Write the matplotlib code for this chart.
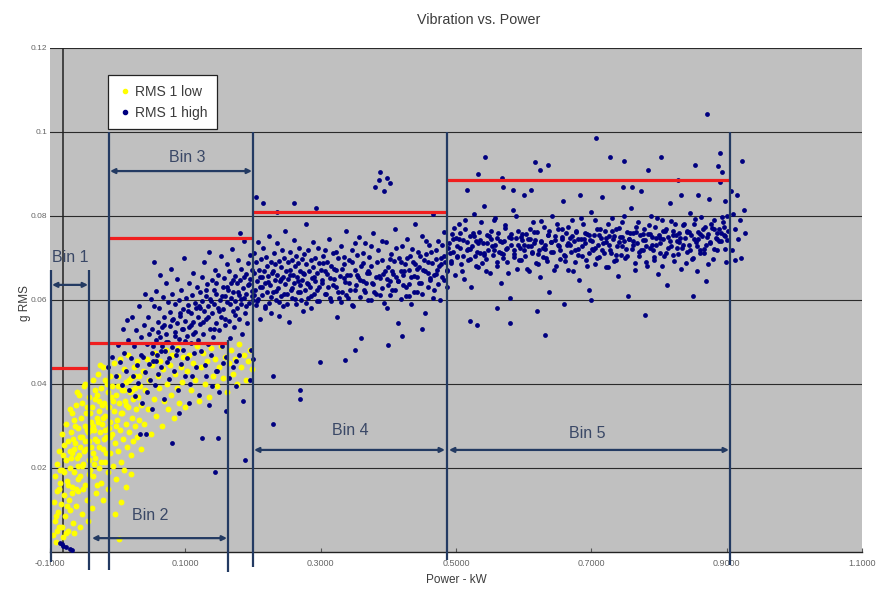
import matplotlib
matplotlib.use("Agg")
import matplotlib.pyplot as plt
from matplotlib.lines import Line2D

plt.rcParams['font.family'] = ['Liberation Sans', 'DejaVu Sans']

# ---------------------------------------------------------------- text
title = "Vibration vs. Power"
x_label = "Power - kW"
y_label = "g RMS"
x_ticks = [-0.1, 0.1, 0.3, 0.5, 0.7, 0.9, 1.1]
x_tick_labels = ["-0.1000", "0.1000", "0.3000", "0.5000", "0.7000", "0.9000", "1.1000"]
y_ticks = [0.02, 0.04, 0.06, 0.08, 0.10, 0.12]
y_tick_labels = ["0.02", "0.04", "0.06", "0.08", "0.1", "0.12"]
series_names = ["RMS 1 low", "RMS 1 high"]

# ---------------------------------------------------------------- bins
bin_names = ["Bin 1", "Bin 2", "Bin 3", "Bin 4", "Bin 5"]
bin_start = [-0.0985, -0.0424, -0.0128, 0.2000, 0.4867]
bin_end = [-0.0424, 0.1631, 0.2000, 0.4867, 0.9049]
bin_level = [0.0438, 0.0498, 0.0748, 0.0810, 0.0886]

# ---------------------------------------------------------------- RMS 1 low (power kW, g RMS)
rms_low = [
    (-0.095, 0.0040), (-0.094, 0.0120), (-0.093, 0.0075), (-0.092, 0.0180), (-0.091, 0.0025),
    (-0.090, 0.0145), (-0.089, 0.0210), (-0.088, 0.0095), (-0.087, 0.0060), (-0.086, 0.0240),
    (-0.085, 0.0165), (-0.084, 0.0115), (-0.083, 0.0280), (-0.082, 0.0195), (-0.081, 0.0035),
    (-0.080, 0.0135), (-0.079, 0.0255), (-0.078, 0.0085), (-0.077, 0.0220), (-0.076, 0.0305),
    (-0.075, 0.0170), (-0.074, 0.0050), (-0.073, 0.0265), (-0.072, 0.0125), (-0.071, 0.0340),
    (-0.070, 0.0200), (-0.070, 0.0100),
    (-0.069, 0.0285), (-0.068, 0.0155), (-0.067, 0.0235), (-0.066, 0.0070), (-0.065, 0.0315),
    (-0.064, 0.0190), (-0.063, 0.0260), (-0.062, 0.0110), (-0.061, 0.0350), (-0.060, 0.0225),
    (-0.059, 0.0295), (-0.058, 0.0145), (-0.057, 0.0375), (-0.056, 0.0250), (-0.055, 0.0180),
    (-0.054, 0.0320), (-0.053, 0.0090), (-0.052, 0.0275), (-0.051, 0.0210), (-0.050, 0.0395),
    (-0.049, 0.0300), (-0.048, 0.0160), (-0.047, 0.0245), (-0.046, 0.0345), (-0.045, 0.0125),
    (-0.044, 0.0285), (-0.043, 0.0220), (-0.042, 0.0370), (-0.041, 0.0195), (-0.040, 0.0310),
    (-0.068, 0.0330), (-0.064, 0.0045), (-0.060, 0.0380), (-0.056, 0.0060), (-0.052, 0.0355),
    (-0.048, 0.0400), (-0.044, 0.0075), (-0.066, 0.0270), (-0.058, 0.0205), (-0.050, 0.0240),
    (-0.042, 0.0265),
    (-0.039, 0.0250), (-0.038, 0.0345), (-0.037, 0.0180), (-0.036, 0.0410), (-0.035, 0.0290),
    (-0.034, 0.0225), (-0.033, 0.0365), (-0.032, 0.0140), (-0.031, 0.0320), (-0.030, 0.0265),
    (-0.029, 0.0425), (-0.028, 0.0200), (-0.027, 0.0335), (-0.026, 0.0285), (-0.025, 0.0390),
    (-0.024, 0.0165), (-0.023, 0.0305), (-0.022, 0.0245), (-0.021, 0.0440), (-0.020, 0.0355),
    (-0.019, 0.0215), (-0.018, 0.0325), (-0.017, 0.0275), (-0.016, 0.0400), (-0.015, 0.0190),
    (-0.014, 0.0345), (-0.013, 0.0295), (-0.012, 0.0420), (-0.011, 0.0235), (-0.010, 0.0370),
    (-0.038, 0.0105), (-0.034, 0.0385), (-0.030, 0.0160), (-0.026, 0.0445), (-0.022, 0.0125),
    (-0.018, 0.0410), (-0.014, 0.0150), (-0.036, 0.0300), (-0.028, 0.0360), (-0.020, 0.0270),
    (-0.012, 0.0310),
    (-0.009, 0.0280), (-0.008, 0.0395), (-0.007, 0.0205), (-0.006, 0.0335), (-0.005, 0.0450),
    (-0.004, 0.0260), (-0.003, 0.0375), (-0.002, 0.0175), (-0.001, 0.0315), (0.000, 0.0420),
    (0.001, 0.0240), (0.002, 0.0355), (0.003, 0.0290), (0.004, 0.0460), (0.005, 0.0215),
    (0.006, 0.0385), (0.007, 0.0330), (0.008, 0.0270), (0.009, 0.0435), (0.010, 0.0195),
    (0.011, 0.0360), (0.012, 0.0305), (0.013, 0.0405), (0.014, 0.0250), (0.015, 0.0345),
    (0.016, 0.0470), (0.017, 0.0285), (0.018, 0.0380), (0.019, 0.0230), (0.020, 0.0415),
    (0.021, 0.0320), (0.022, 0.0365), (0.023, 0.0265), (0.024, 0.0440), (0.025, 0.0300),
    (0.026, 0.0390), (0.027, 0.0340), (0.028, 0.0455), (0.029, 0.0275), (0.030, 0.0370),
    (0.031, 0.0420), (0.032, 0.0315), (0.033, 0.0395), (0.034, 0.0245), (0.035, 0.0350),
    (0.005, 0.0120), (-0.004, 0.0090), (0.012, 0.0155), (0.020, 0.0185), (0.002, 0.0030),
    (0.037, 0.0430), (0.039, 0.0305), (0.041, 0.0385), (0.043, 0.0460), (0.045, 0.0340),
    (0.047, 0.0410), (0.049, 0.0280), (0.051, 0.0445), (0.053, 0.0365), (0.055, 0.0475),
    (0.057, 0.0325), (0.059, 0.0420), (0.061, 0.0390), (0.063, 0.0455), (0.065, 0.0300),
    (0.067, 0.0435), (0.069, 0.0360), (0.071, 0.0480), (0.073, 0.0400), (0.075, 0.0340),
    (0.077, 0.0445), (0.079, 0.0375), (0.081, 0.0470), (0.083, 0.0320), (0.085, 0.0425),
    (0.087, 0.0390), (0.089, 0.0485), (0.091, 0.0355), (0.093, 0.0440), (0.095, 0.0405),
    (0.097, 0.0465), (0.099, 0.0345),
    (0.102, 0.0430), (0.105, 0.0470), (0.108, 0.0385), (0.111, 0.0450), (0.114, 0.0410),
    (0.117, 0.0490), (0.120, 0.0360), (0.123, 0.0440), (0.126, 0.0475), (0.129, 0.0400),
    (0.132, 0.0455), (0.135, 0.0370), (0.138, 0.0485), (0.141, 0.0420), (0.144, 0.0460),
    (0.147, 0.0395), (0.150, 0.0440), (0.153, 0.0490), (0.156, 0.0415), (0.159, 0.0465),
    (0.162, 0.0380), (0.165, 0.0450), (0.168, 0.0480), (0.171, 0.0425), (0.174, 0.0460),
    (0.177, 0.0400), (0.180, 0.0495), (0.183, 0.0440), (0.186, 0.0470), (0.189, 0.0410),
    (0.192, 0.0455), (0.195, 0.0480), (0.198, 0.0435),
    (-0.091, 0.0085), (-0.087, 0.0150), (-0.083, 0.0060), (-0.079, 0.0190), (-0.075, 0.0110),
    (-0.071, 0.0240), (-0.067, 0.0140), (-0.063, 0.0300), (-0.059, 0.0175), (-0.055, 0.0275),
    (-0.051, 0.0150), (-0.047, 0.0330), (-0.043, 0.0185), (-0.039, 0.0290), (-0.035, 0.0210),
    (-0.031, 0.0375), (-0.027, 0.0250), (-0.023, 0.0350), (-0.019, 0.0290), (-0.015, 0.0380),
    (-0.011, 0.0275), (-0.007, 0.0360), (-0.003, 0.0300), (0.001, 0.0395), (0.005, 0.0330),
    (0.009, 0.0385), (0.013, 0.0350), (0.017, 0.0410), (0.021, 0.0385), (0.025, 0.0420),
    (-0.089, 0.0050), (-0.085, 0.0195), (-0.081, 0.0230), (-0.077, 0.0045), (-0.073, 0.0160),
    (-0.069, 0.0225), (-0.065, 0.0245), (-0.061, 0.0150), (-0.057, 0.0230), (-0.053, 0.0205),
    (-0.049, 0.0265), (-0.045, 0.0290), (-0.041, 0.0330), (-0.037, 0.0235), (-0.033, 0.0270),
    (-0.029, 0.0310), (-0.025, 0.0215), (-0.021, 0.0320), (-0.017, 0.0235), (-0.013, 0.0345),
]

# ---------------------------------------------------------------- RMS 1 high (power kW, g RMS)
rms_high = [
    # idle cluster
    (-0.085, 0.0022), (-0.081, 0.0014), (-0.076, 0.0012), (-0.071, 0.0008), (-0.067, 0.0004),
    (-0.083, 0.0018),
    # start-up
    (-0.015, 0.0440), (-0.008, 0.0465), (-0.003, 0.0418), (0.001, 0.0492), (0.004, 0.0452),
    (0.006, 0.0398), (0.008, 0.0530), (0.010, 0.0475), (0.012, 0.0432), (0.014, 0.0552),
    (0.015, 0.0505), (0.017, 0.0385), (0.019, 0.0462), (0.021, 0.0560), (0.022, 0.0420),
    (0.024, 0.0490), (0.025, 0.0371), (0.027, 0.0528), (0.028, 0.0445), (0.030, 0.0402),
    (0.031, 0.0585), (0.033, 0.0281), (0.034, 0.0470), (0.035, 0.0512), (0.036, 0.0355),
    (0.037, 0.0464), (0.039, 0.0540), (0.040, 0.0428), (0.041, 0.0615), (0.042, 0.0281),
    (0.043, 0.0495), (0.044, 0.0382), (0.045, 0.0560), (0.046, 0.0448), (0.047, 0.0520),
    (0.048, 0.0410), (0.049, 0.0602), (0.050, 0.0475), (0.050, 0.0340),
    (0.051, 0.0530), (0.052, 0.0455), (0.053, 0.0690), (0.054, 0.0585), (0.055, 0.0398),
    (0.056, 0.0505), (0.057, 0.0622), (0.058, 0.0470), (0.059, 0.0548), (0.060, 0.0425),
    (0.061, 0.0580), (0.062, 0.0512), (0.063, 0.0660), (0.064, 0.0440), (0.065, 0.0535),
    (0.066, 0.0490), (0.067, 0.0608), (0.068, 0.0365), (0.069, 0.0560), (0.070, 0.0478),
    (0.071, 0.0520), (0.072, 0.0640), (0.073, 0.0452), (0.074, 0.0595), (0.075, 0.0500),
    (0.076, 0.0412), (0.077, 0.0572), (0.078, 0.0538), (0.079, 0.0675), (0.080, 0.0260),
    (0.080, 0.0488), (0.081, 0.0615), (0.082, 0.0555), (0.083, 0.0430), (0.084, 0.0525),
    (0.085, 0.0590), (0.086, 0.0468), (0.087, 0.0650), (0.088, 0.0545), (0.089, 0.0385),
    (0.090, 0.0508), (0.091, 0.0600), (0.092, 0.0562), (0.093, 0.0448), (0.094, 0.0625),
    (0.095, 0.0530), (0.096, 0.0482), (0.097, 0.0578), (0.098, 0.0700), (0.099, 0.0420),
    (0.100, 0.0550), (0.101, 0.0605), (0.102, 0.0515), (0.103, 0.0462), (0.104, 0.0588),
    (0.105, 0.0640), (0.106, 0.0535), (0.107, 0.0400), (0.108, 0.0570), (0.109, 0.0498),
    (0.110, 0.0612), (0.111, 0.0548), (0.112, 0.0665), (0.113, 0.0475), (0.114, 0.0592),
    (0.115, 0.0525), (0.116, 0.0440), (0.117, 0.0632), (0.118, 0.0560), (0.119, 0.0505),
    (0.120, 0.0585),
    (0.052, 0.0490), (0.056, 0.0455), (0.060, 0.0525), (0.064, 0.0478), (0.068, 0.0540),
    (0.072, 0.0500), (0.076, 0.0462), (0.080, 0.0552), (0.084, 0.0515), (0.088, 0.0480),
    (0.092, 0.0568), (0.096, 0.0530), (0.100, 0.0502), (0.104, 0.0575), (0.108, 0.0540),
    (0.112, 0.0518), (0.116, 0.0582),
    (0.130, 0.0420), (0.150, 0.0380), (0.170, 0.0440), (0.185, 0.0360), (0.160, 0.0335),
    (0.140, 0.0395), (0.195, 0.0410), (0.175, 0.0395), (0.120, 0.0375), (0.105, 0.0355),
    (0.090, 0.0330), (0.155, 0.0450), (0.165, 0.0415), (0.200, 0.0460), (0.135, 0.0350),
    (0.180, 0.0470), (0.145, 0.0430), (0.110, 0.0420),
    (0.121, 0.0620), (0.122, 0.0542), (0.123, 0.0478), (0.124, 0.0655), (0.125, 0.0271),
    (0.125, 0.0598), (0.126, 0.0520), (0.127, 0.0690), (0.128, 0.0575), (0.129, 0.0445),
    (0.130, 0.0610), (0.131, 0.0555), (0.132, 0.0638), (0.133, 0.0495), (0.134, 0.0585),
    (0.135, 0.0715), (0.136, 0.0532), (0.137, 0.0602), (0.138, 0.0468), (0.139, 0.0648),
    (0.140, 0.0568), (0.141, 0.0512), (0.142, 0.0625), (0.143, 0.0590), (0.144, 0.0190),
    (0.144, 0.0672), (0.145, 0.0545), (0.146, 0.0615), (0.147, 0.0430), (0.148, 0.0271),
    (0.148, 0.0582), (0.149, 0.0660), (0.150, 0.0528), (0.151, 0.0600), (0.152, 0.0705),
    (0.153, 0.0560), (0.154, 0.0490), (0.155, 0.0632), (0.156, 0.0578), (0.157, 0.0652),
    (0.158, 0.0540), (0.159, 0.0610), (0.160, 0.0465), (0.161, 0.0685), (0.162, 0.0595),
    (0.163, 0.0625), (0.164, 0.0550), (0.165, 0.0668), (0.166, 0.0510), (0.167, 0.0605),
    (0.168, 0.0640), (0.169, 0.0722), (0.170, 0.0575), (0.171, 0.0620), (0.172, 0.0535),
    (0.173, 0.0658), (0.174, 0.0598), (0.175, 0.0455), (0.176, 0.0640), (0.177, 0.0582),
    (0.178, 0.0695), (0.179, 0.0612), (0.180, 0.0555), (0.181, 0.0648), (0.182, 0.0590),
    (0.183, 0.0675), (0.184, 0.0520), (0.185, 0.0628), (0.186, 0.0605), (0.187, 0.0740),
    (0.188, 0.0219), (0.188, 0.0570), (0.189, 0.0662), (0.190, 0.0615), (0.191, 0.0545),
    (0.192, 0.0688), (0.193, 0.0635), (0.194, 0.0592), (0.195, 0.0708), (0.196, 0.0650),
    (0.197, 0.0480), (0.198, 0.0622), (0.199, 0.0672), (0.200, 0.0600), (0.181, 0.0760),
    (0.122, 0.0580), (0.126, 0.0548), (0.130, 0.0625), (0.134, 0.0560), (0.138, 0.0598),
    (0.142, 0.0530), (0.146, 0.0640), (0.150, 0.0575), (0.154, 0.0610), (0.158, 0.0555),
    (0.162, 0.0632), (0.166, 0.0590), (0.170, 0.0648), (0.174, 0.0565), (0.178, 0.0620),
    (0.182, 0.0602), (0.186, 0.0655), (0.190, 0.0585), (0.194, 0.0638), (0.198, 0.0610),
    # transition
    (0.201, 0.0665), (0.202, 0.0712), (0.203, 0.0625), (0.204, 0.0588), (0.205, 0.0690),
    (0.206, 0.0645), (0.207, 0.0738), (0.208, 0.0602), (0.209, 0.0672), (0.210, 0.0630),
    (0.211, 0.0555), (0.212, 0.0698), (0.213, 0.0655), (0.214, 0.0612), (0.215, 0.0725),
    (0.216, 0.0668), (0.217, 0.0580), (0.218, 0.0640), (0.219, 0.0702), (0.220, 0.0618),
    (0.221, 0.0680), (0.222, 0.0658), (0.223, 0.0592), (0.224, 0.0752), (0.225, 0.0635),
    (0.226, 0.0690), (0.227, 0.0570), (0.228, 0.0665), (0.229, 0.0420), (0.230, 0.0620),
    (0.231, 0.0712), (0.232, 0.0648), (0.233, 0.0685), (0.234, 0.0600), (0.235, 0.0660),
    (0.236, 0.0735), (0.237, 0.0628), (0.238, 0.0562), (0.239, 0.0692), (0.240, 0.0645),
    (0.241, 0.0678), (0.242, 0.0610), (0.243, 0.0720), (0.244, 0.0655), (0.245, 0.0585),
    (0.246, 0.0700), (0.247, 0.0638), (0.248, 0.0765), (0.249, 0.0668), (0.250, 0.0615),
    (0.251, 0.0690), (0.252, 0.0650), (0.253, 0.0548), (0.254, 0.0715), (0.255, 0.0672),
    (0.256, 0.0625), (0.257, 0.0695), (0.258, 0.0605), (0.259, 0.0660), (0.260, 0.0742),
    (0.261, 0.0640), (0.262, 0.0682), (0.263, 0.0590), (0.264, 0.0705), (0.265, 0.0655),
    (0.266, 0.0618), (0.267, 0.0688), (0.268, 0.0725), (0.269, 0.0635), (0.270, 0.0365),
    (0.270, 0.0670), (0.271, 0.0600), (0.272, 0.0698), (0.273, 0.0648), (0.274, 0.0575),
    (0.275, 0.0710), (0.276, 0.0662), (0.277, 0.0625), (0.278, 0.0780), (0.279, 0.0685),
    (0.280, 0.0640), (0.281, 0.0605), (0.282, 0.0718), (0.283, 0.0668), (0.284, 0.0632),
    (0.285, 0.0695), (0.286, 0.0580), (0.287, 0.0652), (0.288, 0.0738), (0.289, 0.0678),
    (0.290, 0.0615), (0.291, 0.0700), (0.292, 0.0645), (0.293, 0.0820), (0.294, 0.0665),
    (0.295, 0.0598), (0.296, 0.0725), (0.297, 0.0688), (0.298, 0.0630), (0.299, 0.0452),
    (0.300, 0.0672), (0.205, 0.0845), (0.215, 0.0831), (0.260, 0.0830), (0.235, 0.0810),
    (0.270, 0.0386), (0.230, 0.0305),
    # mid power
    (0.302, 0.0640), (0.304, 0.0705), (0.306, 0.0668), (0.308, 0.0615), (0.310, 0.0690),
    (0.312, 0.0745), (0.314, 0.0652), (0.316, 0.0598), (0.318, 0.0712), (0.320, 0.0675),
    (0.322, 0.0630), (0.324, 0.0560), (0.326, 0.0700), (0.328, 0.0658), (0.330, 0.0728),
    (0.332, 0.0620), (0.334, 0.0685), (0.336, 0.0642), (0.338, 0.0765), (0.340, 0.0605),
    (0.342, 0.0695), (0.344, 0.0660), (0.346, 0.0718), (0.348, 0.0585), (0.350, 0.0672),
    (0.352, 0.0635), (0.354, 0.0708), (0.356, 0.0750), (0.358, 0.0648), (0.360, 0.0510),
    (0.362, 0.0688), (0.364, 0.0625), (0.366, 0.0735), (0.368, 0.0665), (0.370, 0.0600),
    (0.372, 0.0702), (0.374, 0.0680), (0.376, 0.0640), (0.378, 0.0760), (0.380, 0.0870),
    (0.382, 0.0655), (0.384, 0.0718), (0.386, 0.0885), (0.388, 0.0612), (0.390, 0.0695),
    (0.392, 0.0662), (0.394, 0.0860), (0.396, 0.0738), (0.398, 0.0580), (0.400, 0.0678),
    (0.402, 0.0645), (0.404, 0.0710), (0.406, 0.0625), (0.408, 0.0692), (0.410, 0.0770),
    (0.412, 0.0655), (0.414, 0.0545), (0.416, 0.0700), (0.418, 0.0668), (0.420, 0.0728),
    (0.422, 0.0635), (0.424, 0.0685), (0.426, 0.0610), (0.428, 0.0745), (0.430, 0.0672),
    (0.432, 0.0705), (0.434, 0.0590), (0.436, 0.0690), (0.438, 0.0658), (0.440, 0.0782),
    (0.442, 0.0620), (0.444, 0.0715), (0.446, 0.0678), (0.448, 0.0640), (0.450, 0.0752),
    (0.452, 0.0695), (0.454, 0.0570), (0.456, 0.0710), (0.458, 0.0665), (0.460, 0.0730),
    (0.462, 0.0648), (0.464, 0.0688), (0.466, 0.0805), (0.468, 0.0625), (0.470, 0.0718),
    (0.472, 0.0672), (0.474, 0.0740), (0.476, 0.0600), (0.478, 0.0700), (0.480, 0.0655),
    (0.482, 0.0762), (0.484, 0.0690), (0.486, 0.0630), (0.488, 0.0725),
    (0.303, 0.0688), (0.307, 0.0720), (0.311, 0.0632), (0.315, 0.0680), (0.319, 0.0650),
    (0.323, 0.0715), (0.327, 0.0605), (0.331, 0.0675), (0.335, 0.0702), (0.339, 0.0660),
    (0.343, 0.0625), (0.347, 0.0690), (0.351, 0.0735), (0.355, 0.0655), (0.359, 0.0682),
    (0.363, 0.0712), (0.367, 0.0640), (0.371, 0.0665), (0.375, 0.0728), (0.379, 0.0618),
    (0.383, 0.0690), (0.387, 0.0652), (0.391, 0.0740), (0.395, 0.0670), (0.399, 0.0635),
    (0.403, 0.0698), (0.407, 0.0662), (0.411, 0.0725), (0.415, 0.0645), (0.419, 0.0690),
    (0.423, 0.0668), (0.427, 0.0700), (0.431, 0.0638), (0.435, 0.0722), (0.439, 0.0685),
    (0.443, 0.0655), (0.447, 0.0705), (0.451, 0.0672), (0.455, 0.0740), (0.459, 0.0690),
    (0.463, 0.0715), (0.467, 0.0660), (0.471, 0.0698), (0.475, 0.0680), (0.479, 0.0730),
    (0.483, 0.0705), (0.487, 0.0668),
    (0.202, 0.0612), (0.206, 0.0598), (0.210, 0.0655), (0.214, 0.0630), (0.218, 0.0585),
    (0.222, 0.0642), (0.226, 0.0608), (0.230, 0.0668), (0.234, 0.0622), (0.238, 0.0595),
    (0.242, 0.0650), (0.246, 0.0615), (0.250, 0.0590), (0.254, 0.0660), (0.258, 0.0628),
    (0.262, 0.0602), (0.266, 0.0645), (0.270, 0.0618), (0.274, 0.0665), (0.278, 0.0592),
    (0.282, 0.0638), (0.286, 0.0610), (0.290, 0.0655), (0.294, 0.0625), (0.298, 0.0598),
    (0.302, 0.0648), (0.306, 0.0615), (0.310, 0.0662), (0.314, 0.0605), (0.318, 0.0635),
    (0.322, 0.0672), (0.326, 0.0620), (0.330, 0.0595), (0.334, 0.0652), (0.338, 0.0612),
    (0.342, 0.0640), (0.346, 0.0588), (0.350, 0.0625), (0.354, 0.0660), (0.358, 0.0608),
    (0.362, 0.0645), (0.366, 0.0618), (0.370, 0.0670), (0.374, 0.0600), (0.378, 0.0638),
    (0.382, 0.0615), (0.386, 0.0658), (0.390, 0.0628), (0.394, 0.0592), (0.398, 0.0650),
    (0.402, 0.0612), (0.406, 0.0668), (0.410, 0.0625), (0.414, 0.0645), (0.418, 0.0602),
    (0.422, 0.0660), (0.426, 0.0632), (0.430, 0.0610), (0.434, 0.0655), (0.438, 0.0620),
    (0.442, 0.0675), (0.446, 0.0640), (0.450, 0.0615), (0.454, 0.0668), (0.458, 0.0630),
    (0.462, 0.0652), (0.466, 0.0605), (0.470, 0.0662), (0.474, 0.0638), (0.478, 0.0685),
    (0.482, 0.0648), (0.486, 0.0672),
    (0.388, 0.0905), (0.398, 0.0890), (0.403, 0.0878), (0.336, 0.0457), (0.400, 0.0493),
    (0.350, 0.0480), (0.450, 0.0530), (0.420, 0.0515),
    # high power
    (0.490, 0.0735), (0.492, 0.0692), (0.494, 0.0758), (0.496, 0.0715), (0.498, 0.0660),
    (0.500, 0.0748), (0.502, 0.0702), (0.504, 0.0780), (0.506, 0.0725), (0.508, 0.0685),
    (0.510, 0.0742), (0.512, 0.0650), (0.514, 0.0770), (0.516, 0.0718), (0.518, 0.0695),
    (0.520, 0.0752), (0.522, 0.0630), (0.524, 0.0728), (0.526, 0.0805), (0.528, 0.0705),
    (0.530, 0.0740), (0.532, 0.0678), (0.534, 0.0762), (0.536, 0.0712), (0.538, 0.0688),
    (0.540, 0.0735), (0.542, 0.0825), (0.544, 0.0698), (0.546, 0.0755), (0.548, 0.0720),
    (0.550, 0.0665), (0.552, 0.0745), (0.554, 0.0708), (0.556, 0.0790), (0.558, 0.0730),
    (0.560, 0.0682), (0.562, 0.0760), (0.564, 0.0715), (0.566, 0.0640), (0.568, 0.0738),
    (0.570, 0.0700), (0.572, 0.0772), (0.574, 0.0722), (0.576, 0.0690), (0.578, 0.0750),
    (0.580, 0.0605), (0.582, 0.0732), (0.584, 0.0815), (0.586, 0.0710), (0.588, 0.0748),
    (0.590, 0.0675), (0.592, 0.0765), (0.594, 0.0725), (0.596, 0.0695), (0.598, 0.0742),
    (0.600, 0.0850), (0.602, 0.0705), (0.604, 0.0758), (0.606, 0.0728), (0.608, 0.0670),
    (0.610, 0.0745), (0.612, 0.0712), (0.614, 0.0785), (0.616, 0.0735), (0.618, 0.0688),
    (0.620, 0.0762), (0.622, 0.0718), (0.624, 0.0655), (0.626, 0.0740), (0.628, 0.0702),
    (0.630, 0.0775), (0.632, 0.0730), (0.634, 0.0692), (0.636, 0.0755), (0.638, 0.0620),
    (0.640, 0.0738), (0.642, 0.0800), (0.644, 0.0715), (0.646, 0.0752), (0.648, 0.0680),
    (0.650, 0.0768), (0.652, 0.0728), (0.654, 0.0698), (0.656, 0.0745), (0.658, 0.0835),
    (0.660, 0.0708), (0.662, 0.0760), (0.664, 0.0732), (0.666, 0.0672), (0.668, 0.0748),
    (0.670, 0.0715), (0.672, 0.0790), (0.674, 0.0740), (0.676, 0.0690), (0.678, 0.0765),
    (0.680, 0.0722), (0.682, 0.0648), (0.684, 0.0745), (0.686, 0.0705), (0.688, 0.0780),
    (0.690, 0.0735), (0.692, 0.0695), (0.694, 0.0758), (0.696, 0.0625), (0.698, 0.0742),
    (0.700, 0.0810), (0.702, 0.0718), (0.704, 0.0755), (0.706, 0.0685), (0.708, 0.0770),
    (0.710, 0.0730), (0.712, 0.0702), (0.714, 0.0748), (0.716, 0.0845), (0.718, 0.0712),
    (0.720, 0.0765), (0.722, 0.0738), (0.724, 0.0678), (0.726, 0.0752), (0.728, 0.0720),
    (0.730, 0.0795), (0.732, 0.0745), (0.734, 0.0692), (0.736, 0.0770), (0.738, 0.0728),
    (0.740, 0.0658), (0.742, 0.0750), (0.744, 0.0708), (0.746, 0.0785), (0.748, 0.0740),
    (0.750, 0.0700), (0.752, 0.0762), (0.754, 0.0610), (0.756, 0.0745), (0.758, 0.0820),
    (0.760, 0.0722), (0.762, 0.0760), (0.764, 0.0688), (0.766, 0.0775), (0.768, 0.0735),
    (0.770, 0.0705), (0.772, 0.0755), (0.774, 0.0860), (0.776, 0.0718), (0.778, 0.0770),
    (0.780, 0.0742), (0.782, 0.0682), (0.784, 0.0758), (0.786, 0.0725), (0.788, 0.0800),
    (0.790, 0.0750), (0.792, 0.0695), (0.794, 0.0775), (0.796, 0.0732), (0.798, 0.0662),
    (0.800, 0.0755), (0.802, 0.0712), (0.804, 0.0790), (0.806, 0.0745), (0.808, 0.0705),
    (0.810, 0.0768), (0.812, 0.0635), (0.814, 0.0750), (0.816, 0.0830), (0.818, 0.0728),
    (0.820, 0.0765), (0.822, 0.0692), (0.824, 0.0780), (0.826, 0.0740), (0.828, 0.0710),
    (0.830, 0.0760), (0.832, 0.0850), (0.834, 0.0725), (0.836, 0.0778), (0.838, 0.0748),
    (0.840, 0.0688), (0.842, 0.0765), (0.844, 0.0730), (0.846, 0.0808), (0.848, 0.0755),
    (0.850, 0.0700), (0.852, 0.0782), (0.854, 0.0738), (0.856, 0.0668), (0.858, 0.0762),
    (0.860, 0.0720), (0.862, 0.0798), (0.864, 0.0752), (0.866, 0.0712), (0.868, 0.0775),
    (0.870, 0.0645), (0.872, 0.0758), (0.874, 0.0840), (0.876, 0.0735), (0.878, 0.0772),
    (0.880, 0.0698), (0.882, 0.0790), (0.884, 0.0748), (0.886, 0.0718), (0.888, 0.0768),
    (0.890, 0.0880), (0.892, 0.0740), (0.894, 0.0785), (0.896, 0.0755), (0.898, 0.0722),
    (0.900, 0.0800), (0.902, 0.0765), (0.899, 0.0690), (0.897, 0.0835),
    (0.491, 0.0712), (0.496, 0.0745), (0.501, 0.0728), (0.506, 0.0760), (0.511, 0.0705),
    (0.516, 0.0738), (0.521, 0.0722), (0.526, 0.0752), (0.531, 0.0715), (0.536, 0.0742),
    (0.541, 0.0708), (0.546, 0.0735), (0.551, 0.0765), (0.556, 0.0720), (0.561, 0.0748),
    (0.566, 0.0712), (0.571, 0.0740), (0.576, 0.0725), (0.581, 0.0758), (0.586, 0.0702),
    (0.591, 0.0732), (0.596, 0.0750), (0.601, 0.0718), (0.606, 0.0745), (0.611, 0.0728),
    (0.616, 0.0762), (0.621, 0.0710), (0.626, 0.0738), (0.631, 0.0722), (0.636, 0.0755),
    (0.641, 0.0715), (0.646, 0.0742), (0.651, 0.0730), (0.656, 0.0768), (0.661, 0.0705),
    (0.666, 0.0735), (0.671, 0.0752), (0.676, 0.0720), (0.681, 0.0745), (0.686, 0.0728),
    (0.691, 0.0760), (0.696, 0.0712), (0.701, 0.0740), (0.706, 0.0725), (0.711, 0.0755),
    (0.716, 0.0718), (0.721, 0.0748), (0.726, 0.0732), (0.731, 0.0765), (0.736, 0.0708),
    (0.741, 0.0738), (0.746, 0.0750), (0.751, 0.0722), (0.756, 0.0745), (0.761, 0.0730),
    (0.766, 0.0762), (0.771, 0.0715), (0.776, 0.0742), (0.781, 0.0728), (0.786, 0.0758),
    (0.791, 0.0720), (0.796, 0.0748), (0.801, 0.0735), (0.806, 0.0765), (0.811, 0.0712),
    (0.816, 0.0740), (0.821, 0.0755), (0.826, 0.0725), (0.831, 0.0748), (0.836, 0.0732),
    (0.841, 0.0762), (0.846, 0.0718), (0.851, 0.0745), (0.856, 0.0728), (0.861, 0.0758),
    (0.866, 0.0722), (0.871, 0.0750), (0.876, 0.0738), (0.881, 0.0768), (0.886, 0.0745),
    (0.891, 0.0760), (0.896, 0.0775), (0.901, 0.0742),
    (0.493, 0.0688), (0.497, 0.0772), (0.501, 0.0705), (0.505, 0.0745), (0.509, 0.0668),
    (0.513, 0.0790), (0.517, 0.0722), (0.521, 0.0698), (0.525, 0.0760), (0.529, 0.0680),
    (0.533, 0.0735), (0.537, 0.0785), (0.541, 0.0712), (0.545, 0.0670), (0.549, 0.0752),
    (0.553, 0.0728), (0.557, 0.0795), (0.561, 0.0690), (0.565, 0.0740), (0.569, 0.0710),
    (0.573, 0.0778), (0.577, 0.0665), (0.581, 0.0748), (0.585, 0.0720), (0.589, 0.0800),
    (0.593, 0.0695), (0.597, 0.0758), (0.601, 0.0732), (0.605, 0.0675), (0.609, 0.0770),
    (0.613, 0.0715), (0.617, 0.0742), (0.621, 0.0685), (0.625, 0.0788), (0.629, 0.0725),
    (0.633, 0.0700), (0.637, 0.0765), (0.641, 0.0738), (0.645, 0.0672), (0.649, 0.0782),
    (0.653, 0.0718), (0.657, 0.0750), (0.661, 0.0692), (0.665, 0.0775), (0.669, 0.0730),
    (0.673, 0.0668), (0.677, 0.0762), (0.681, 0.0708), (0.685, 0.0795), (0.689, 0.0745),
    (0.693, 0.0682), (0.697, 0.0755), (0.701, 0.0722), (0.705, 0.0790), (0.709, 0.0700),
    (0.713, 0.0768), (0.717, 0.0735), (0.721, 0.0678), (0.725, 0.0780), (0.729, 0.0712),
    (0.733, 0.0752), (0.737, 0.0695), (0.741, 0.0772), (0.745, 0.0728), (0.749, 0.0800),
    (0.753, 0.0705), (0.757, 0.0760), (0.761, 0.0740), (0.765, 0.0672), (0.769, 0.0785),
    (0.773, 0.0718), (0.777, 0.0758), (0.781, 0.0690), (0.785, 0.0778), (0.789, 0.0732),
    (0.793, 0.0702), (0.797, 0.0795), (0.801, 0.0748), (0.805, 0.0680), (0.809, 0.0765),
    (0.813, 0.0725), (0.817, 0.0788), (0.821, 0.0708), (0.825, 0.0755), (0.829, 0.0738),
    (0.833, 0.0675), (0.837, 0.0782), (0.841, 0.0715), (0.845, 0.0762), (0.849, 0.0698),
    (0.853, 0.0792), (0.857, 0.0745), (0.861, 0.0712), (0.865, 0.0770), (0.869, 0.0730),
    (0.873, 0.0685), (0.877, 0.0780), (0.881, 0.0722), (0.885, 0.0760), (0.889, 0.0740),
    (0.893, 0.0798), (0.897, 0.0752),
    (0.871, 0.1043), (0.707, 0.0986), (0.543, 0.0940), (0.533, 0.0900), (0.728, 0.0940),
    (0.748, 0.0931), (0.803, 0.0940), (0.784, 0.0910), (0.853, 0.0921), (0.890, 0.0950),
    (0.887, 0.0919), (0.617, 0.0929), (0.636, 0.0921), (0.624, 0.0910), (0.516, 0.0862),
    (0.568, 0.0890), (0.569, 0.0869), (0.584, 0.0862), (0.611, 0.0862), (0.893, 0.0905),
    (0.683, 0.0850), (0.747, 0.0869), (0.760, 0.0869), (0.828, 0.0886), (0.858, 0.0850),
    (0.632, 0.0517), (0.531, 0.0540), (0.560, 0.0580), (0.620, 0.0575), (0.700, 0.0600),
    (0.780, 0.0565), (0.850, 0.0610), (0.520, 0.0550), (0.580, 0.0545), (0.660, 0.0590),
    # beyond rated
    (0.908, 0.0720), (0.910, 0.0805), (0.912, 0.0768), (0.915, 0.0850), (0.917, 0.0745),
    (0.919, 0.0790), (0.921, 0.0700), (0.923, 0.0931), (0.925, 0.0815), (0.927, 0.0760),
    (0.906, 0.0860), (0.913, 0.0695),
]

# ---------------------------------------------------------------- colours
GRAY_BG = "#c0c0c0"
NAVY = "#000080"
YELLOW = "#ffff00"
BIN_BLUE = "#233a62"
BIN_TEXT = "#3a4866"
RED = "#f01e1e"
TEXT = "#3c3c3c"

W, H = 877, 589
fig = plt.figure(figsize=(W / 100, H / 100), dpi=100)
fig.patch.set_facecolor("white")
ax = fig.add_axes([50 / W, 1 - 552 / H, 812 / W, 504 / H])
ax.set_facecolor(GRAY_BG)
ax.set_xlim(-0.1, 1.1)
ax.set_ylim(0.0, 0.12)

for s in ("top", "right", "left"):
    ax.spines[s].set_visible(False)
ax.spines["bottom"].set_color("#222222")
ax.spines["bottom"].set_linewidth(1.0)

# value axis sits slightly right of the plot-area edge
ax.axvline(-0.0808, color="#222222", lw=1.1, zorder=2)
for yv in y_ticks:
    ax.axhline(yv, color="#2a2a2a", lw=0.8, zorder=1)

ax.set_xticks(x_ticks)
ax.set_xticklabels(x_tick_labels)
ax.set_yticks(y_ticks)
ax.set_yticklabels(y_tick_labels)
ax.tick_params(axis="x", direction="in", length=3, width=0.8, color="#555555",
               labelsize=6.5, labelcolor="#666666", pad=5)
ax.tick_params(axis="y", length=0, labelsize=6, labelcolor="#666666", pad=2)

# scatter series
lx = [p[0] for p in rms_low]
ly = [p[1] for p in rms_low]
hx = [p[0] for p in rms_high]
hy = [p[1] for p in rms_high]
ax.scatter(lx, ly, s=18, c=YELLOW, linewidths=0, zorder=3)
ax.scatter(hx, hy, s=12, c=NAVY, linewidths=0, zorder=4)

# bin boundaries (top, bottom in g RMS)
boundary_x = [-0.0985, -0.0424, -0.0128, 0.1631, 0.2000, 0.4867, 0.9049]
boundary_top = [0.0671, 0.0671, 0.1000, 0.0505, 0.1000, 0.1000, 0.1000]
boundary_bottom = [-0.0024, -0.0043, -0.0043, -0.0048, -0.0036, -0.0019, -0.0030]
for bx, top, bot in zip(boundary_x, boundary_top, boundary_bottom):
    ax.plot([bx, bx], [bot, top], color=BIN_BLUE, lw=1.6, zorder=6,
            clip_on=False, solid_capstyle="butt")

# bin reference levels
for x0, x1, lv in zip(bin_start, bin_end, bin_level):
    ax.plot([x0, x1], [lv, lv], color=RED, lw=2.3, zorder=5, solid_capstyle="butt")

# span arrows and labels
arrow_y = [0.0636, 0.0033, 0.0907, 0.0243, 0.0243]
arrow_x0 = [-0.0970, -0.0379, -0.0113, 0.2015, 0.4896]
arrow_x1 = [-0.0438, 0.1616, 0.1985, 0.4837, 0.9034]
label_xy = [(-0.0704, 0.0700), (0.0478, 0.0088), (0.1025, 0.0940),
            (0.3433, 0.0290), (0.6936, 0.0281)]
for name, x0, x1, ay, (tx, ty) in zip(bin_names, arrow_x0, arrow_x1, arrow_y, label_xy):
    ax.annotate("", xy=(x1, ay), xytext=(x0, ay),
                arrowprops=dict(arrowstyle="<|-|>", color=BIN_BLUE, lw=1.6,
                                mutation_scale=7, shrinkA=0, shrinkB=0),
                zorder=7)
    ax.text(tx, ty, name, ha="center", va="center", fontsize=11.5,
            color=BIN_TEXT, zorder=7)

# titles
fig.text(479 / W, 1 - 20 / H, title, ha="center", va="center", fontsize=10.3, color=TEXT)
fig.text(456 / W, 1 - 580 / H, x_label, ha="center", va="center", fontsize=8.5, color=TEXT)
fig.text(25 / W, 1 - 303 / H, y_label, ha="center", va="center", rotation=90,
         fontsize=8.5, color=TEXT)

# legend
handles = [Line2D([], [], ls="none", marker="o", ms=3, mfc=YELLOW, mec=YELLOW),
           Line2D([], [], ls="none", marker="o", ms=3, mfc=NAVY, mec=NAVY)]
leg = ax.legend(handles, series_names, loc="upper left",
                bbox_to_anchor=(108 / W, 1 - 75 / H), bbox_transform=fig.transFigure,
                frameon=True, fancybox=False, framealpha=1, edgecolor="#222222",
                fontsize=10, handlelength=1.0, handletextpad=0.25,
                borderpad=0.7, labelspacing=0.5, borderaxespad=0)
leg.get_frame().set_linewidth(0.9)
leg.set_zorder(10)
for t in leg.get_texts():
    t.set_color(TEXT)

fig.savefig("out.png", dpi=100)
